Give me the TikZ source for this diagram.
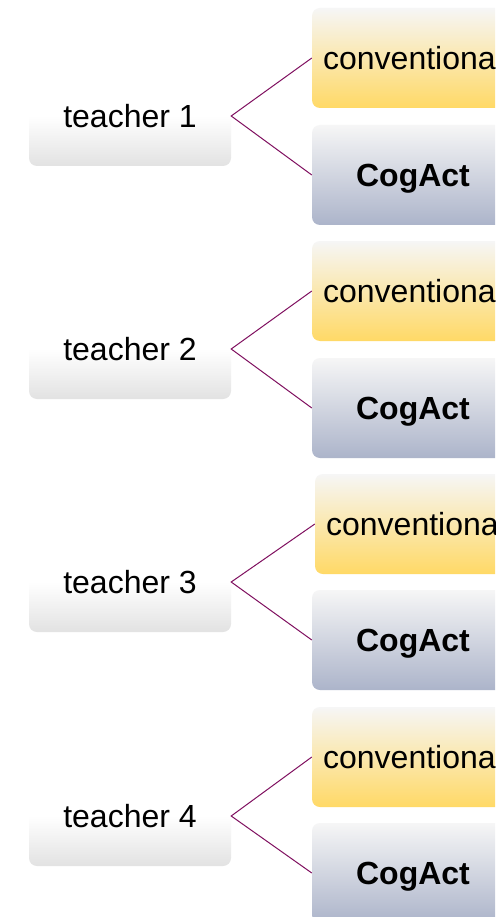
\documentclass[tikz,border=0pt]{standalone}
\usepackage{fontspec}
\setmainfont{Liberation Sans}
\definecolor{linecol}{RGB}{128,16,96}
\definecolor{topgray}{RGB}{246,246,246}
\definecolor{yel}{RGB}{255,217,102}
\definecolor{blu}{RGB}{172,180,202}
\definecolor{tgray}{RGB}{226,226,226}
\tikzset{
  box/.style={rounded corners=8pt, minimum width=202pt, minimum height=100pt, inner sep=0pt, text depth=0pt, font=\fontsize{32}{38}\selectfont},
  teacherbox/.style={box, top color=white, bottom color=tgray, middle color=white, shading angle=0},
  convbox/.style={box, top color=topgray, bottom color=yel},
  cogbox/.style={box, top color=topgray, bottom color=blu, font=\fontsize{32}{38}\selectfont\bfseries},
  conn/.style={draw=linecol, line width=1pt}
}
\begin{document}
\begin{tikzpicture}[x=1pt,y=-1pt]
\useasboundingbox (0,0) rectangle (495,917);
\clip (0,0) rectangle (495,917);
\fill[white] (0,0) rectangle (495,917);
\foreach \i/\ty/\cy/\gy/\cx in {1/116/58/175/413, 2/349/291/408/413, 3/582/524/640/416, 4/816/757/873/413}{
  \node[teacherbox] (t\i) at (130,\ty) {teacher \i};
  \node[convbox] (c\i) at (\cx,\cy) {conventional};
  \node[cogbox] (g\i) at (413,\gy) {CogAct};
  \draw[conn] (c\i.west) -- (t\i.east) -- (g\i.west);
}
\end{tikzpicture}
\end{document}
